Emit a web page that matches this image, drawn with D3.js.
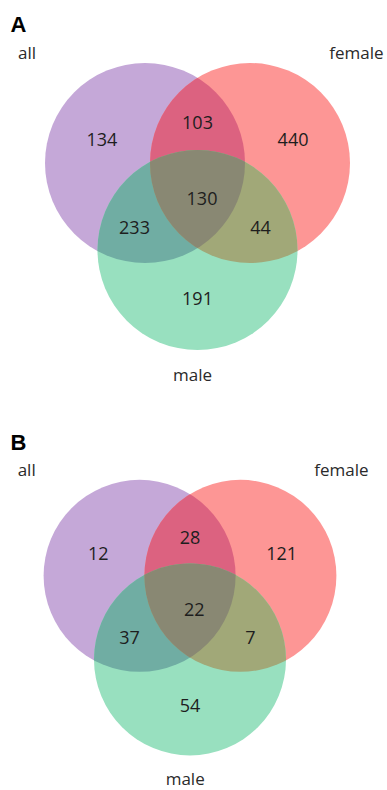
<!DOCTYPE html>
<html>
<head>
<meta charset="utf-8">
<script src="https://cdn.jsdelivr.net/npm/d3@7/dist/d3.min.js"></script>
<style>
  html, body { margin: 0; padding: 0; background: #fff; }
  svg { display: block; }
</style>
</head>
<body>
<div id="chart"></div>
<script>
// Set names and per-region counts for the two three-way Venn diagrams.
const setNames = ["all", "female", "male"];
const panelLetters = ["A", "B"];
// Region keys: which sets the region belongs to (indices into setNames).
const regionKeys = ["0", "1", "2", "01", "02", "12", "012"];
const countsA = [134, 440, 191, 103, 233, 44, 130];
const countsB = [12, 121, 54, 28, 37, 7, 22];

// Fill colour for every region (single sets, pairs, triple).
const regionColors = {
  "0": "#c5a8d8", "1": "#fd9695", "2": "#98e0bf",
  "01": "#dc6280", "02": "#70ada3", "12": "#a1a878",
  "012": "#898873"
};

const W = 387, H = 790;
const svg = d3.select("#chart").append("svg").attr("width", W).attr("height", H);
const defs = svg.append("defs");

// Unit layout: circles of radius 1 around the triangle centroid.
const centers = [[-0.525, -0.29], [0.525, -0.29], [0, 0.58]];

function labelPos(key) {
  const ins = key.split("").map(Number);
  if (ins.length === 1) return centers[ins[0]].map(v => v * 1.82);
  if (ins.length === 2) {
    const out = [0, 1, 2].find(i => !ins.includes(i));
    return centers[out].map(v => -v * 1.2);
  }
  return [0.045, 0.06];
}

const panels = [
  { letter: panelLetters[0], counts: countsA, ox: 197.5, oy: 192, r: 100 },
  { letter: panelLetters[1], counts: countsB, ox: 190, oy: 603.7, r: 96 }
];

panels.forEach((p, pi) => {
  const x = d3.scaleLinear().domain([0, 1]).range([p.ox, p.ox + p.r]);
  const y = d3.scaleLinear().domain([0, 1]).range([p.oy, p.oy + p.r]);
  const rad = x(1) - x(0);
  const g = svg.append("g");

  // clip paths, one per circle
  centers.forEach((c, i) => {
    defs.append("clipPath").attr("id", `clip-${pi}-${i}`)
      .append("circle").attr("cx", x(c[0])).attr("cy", y(c[1])).attr("r", rad);
  });

  const drawCircle = (parent, i, color) => parent.append("circle")
    .attr("cx", x(centers[i][0])).attr("cy", y(centers[i][1])).attr("r", rad)
    .attr("fill", color);

  // single sets
  [0, 1, 2].forEach(i => drawCircle(g, i, regionColors[String(i)]));
  // pairwise overlaps
  [["01", 0, 1], ["02", 0, 2], ["12", 1, 2]].forEach(([k, a, b]) => {
    const gg = g.append("g").attr("clip-path", `url(#clip-${pi}-${a})`);
    drawCircle(gg, b, regionColors[k]);
  });
  // triple overlap
  const g3 = g.append("g").attr("clip-path", `url(#clip-${pi}-0)`)
    .append("g").attr("clip-path", `url(#clip-${pi}-1)`);
  drawCircle(g3, 2, regionColors["012"]);

  // region counts
  g.selectAll("text.count").data(regionKeys).join("text")
    .attr("class", "count")
    .attr("x", k => x(labelPos(k)[0]))
    .attr("y", k => y(labelPos(k)[1]))
    .attr("text-anchor", "middle")
    .attr("dominant-baseline", "central")
    .attr("font-family", "'Open Sans', sans-serif")
    .attr("font-size", 18)
    .attr("fill", "#1e1e1e")
    .text((k, i) => p.counts[i]);

  // set names
  const setLabel = [
    { t: setNames[0], u: [-1.795, -1.33], anchor: "start" },
    { t: setNames[1], u: [1.86, -1.33], anchor: "end" },
    { t: setNames[2], u: [-0.05, 1.885], anchor: "middle" }
  ];
  g.selectAll("text.set").data(setLabel).join("text")
    .attr("class", "set")
    .attr("x", d => x(d.u[0]))
    .attr("y", d => y(d.u[1]))
    .attr("text-anchor", d => d.anchor)
    .attr("font-family", "'Open Sans', sans-serif")
    .attr("font-size", 17)
    .attr("fill", "#2a2a2a")
    .text(d => d.t);

  // panel letter
  g.append("text")
    .attr("x", x(-1.87))
    .attr("y", y(-1.6))
    .attr("font-family", "'Liberation Sans', Arial, sans-serif")
    .attr("font-weight", "bold")
    .attr("font-size", 22)
    .attr("fill", "#000")
    .text(p.letter);
});
</script>
</body>
</html>
